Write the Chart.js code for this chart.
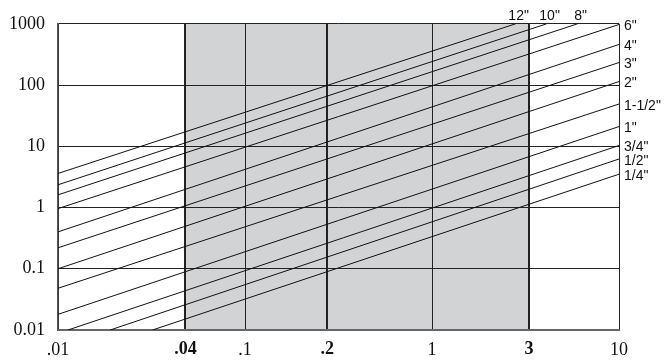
<!DOCTYPE html>
<html>
<head>
<meta charset="utf-8">
<script src="https://cdn.jsdelivr.net/npm/chart.js@4/dist/chart.umd.min.js"></script>
<style>
  body { margin: 0; background: #fff; }
  #wrap { width: 665px; height: 362px; }
</style>
</head>
<body>
<div id="wrap"><canvas id="js-pipe-chart" width="665" height="362"></canvas></div>
<script>
// pipe sizes, one line each (ends at the plot edge)
const pipeSizes = ['1/4"', '1/2"', '3/4"', '1"', '1-1/2"', '2"', '3"', '4"', '6"', '8"', '10"', '12"'];
const startX = [0.032, 0.019, 0.0113, 0.01, 0.01, 0.01, 0.01, 0.01, 0.01, 0.01, 0.01, 0.01];
const startY = [0.01, 0.01, 0.01, 0.018, 0.048, 0.10, 0.22, 0.40, 0.96, 1.61, 2.35, 3.6];
const endX = [10, 10, 10, 10, 10, 10, 10, 10, 10, 6.0, 4.1, 2.8];
const endY = [3.5, 6.2, 10.3, 21, 49, 114, 233, 460, 975, 1000, 1000, 1000];

// axis ticks (the marked x lines sit where the drawing puts them)
const xTickValues = [0.01, 0.048, 0.1, 0.275, 1, 3.3, 10];
const xTickLabels = ['.01', '.04', '.1', '.2', '1', '3', '10'];
const boundaryLabels = ['.04', '.2', '3'];
const yTickValues = [0.01, 0.1, 1, 10, 100, 1000];
const yTickLabels = ['0.01', '0.1', '1', '10', '100', '1000'];

const isBoundary = (i) => boundaryLabels.includes(xTickLabels[i]);
const bandFrom = xTickValues[xTickLabels.indexOf(boundaryLabels[0])];
const bandTo = xTickValues[xTickLabels.indexOf(boundaryLabels[boundaryLabels.length - 1])];

const bandPlugin = {
    id: "band",
    beforeDraw(chart) {
        const { ctx, chartArea, scales } = chart;
        const x1 = scales.x.getPixelForValue(bandFrom);
        const x2 = scales.x.getPixelForValue(bandTo);
        ctx.save();
        ctx.fillStyle = "#d2d3d5";
        ctx.fillRect(x1, chartArea.top, x2 - x1, chartArea.bottom - chartArea.top);
        ctx.restore();
    },
};

const sizeLabelPlugin = {
    id: "sizeLabels",
    afterDatasetsDraw(chart) {
        const { ctx, chartArea } = chart;
        ctx.save();
        ctx.font = "14px 'Liberation Sans', Arial, sans-serif";
        ctx.fillStyle = "#111";
        chart.data.datasets.forEach((ds, i) => {
            const pts = chart.getDatasetMeta(i).data;
            const end = pts[pts.length - 1];
            if (end.x < chartArea.right - 2) {
                // line leaves through the top
                ctx.textAlign = "center";
                ctx.textBaseline = "alphabetic";
                ctx.fillText(ds.label, end.x + 3, chartArea.top - 4);
            } else {
                ctx.textAlign = "left";
                ctx.textBaseline = "middle";
                ctx.fillText(ds.label, chartArea.right + 5, end.y + 2);
            }
        });
        ctx.restore();
    },
};

const datasets = pipeSizes.map((size, i) => ({
    label: size,
    data: [
        { x: startX[i], y: startY[i] },
        { x: endX[i], y: endY[i] },
    ],
    showLine: true,
    borderColor: "#111",
    borderWidth: 1,
    pointRadius: 0,
}));

const serif = "'Liberation Serif', 'Times New Roman', serif";

new Chart(document.getElementById("js-pipe-chart").getContext("2d"), {
    type: "scatter",
    data: { datasets: datasets },
    plugins: [bandPlugin, sizeLabelPlugin],
    options: {
        responsive: false,
        animation: false,
        layout: { padding: { top: 22, right: 46, left: 0, bottom: 0 } },
        plugins: { legend: { display: false }, tooltip: { enabled: false } },
        scales: {
            x: {
                type: "logarithmic",
                min: 0.01,
                max: 10,
                afterBuildTicks: (scale) => {
                    scale.ticks = xTickValues.map((v) => ({ value: v }));
                },
                afterFit: (scale) => {
                    scale.height = 32;
                },
                ticks: {
                    autoSkip: false,
                    maxRotation: 0,
                    padding: 9,
                    color: "#111",
                    font: (c) => ({ family: serif, size: 18, weight: isBoundary(c.index) ? "bold" : "normal" }),
                    callback: (v, i) => xTickLabels[i],
                },
                grid: {
                    drawTicks: false,
                    color: "#222",
                    lineWidth: (c) => (isBoundary(c.index) ? 2 : 1),
                },
                border: { display: true, color: "#666", width: 2 },
            },
            y: {
                type: "logarithmic",
                min: 0.01,
                max: 1000,
                afterBuildTicks: (scale) => {
                    scale.ticks = yTickValues.map((v) => ({ value: v }));
                },
                afterFit: (scale) => {
                    scale.width = 58;
                },
                ticks: {
                    autoSkip: false,
                    padding: 13,
                    color: "#111",
                    font: { family: serif, size: 18 },
                    callback: (v, i) => yTickLabels[i],
                },
                grid: { drawTicks: false, color: "#222", lineWidth: 1 },
                border: { display: true, color: "#555", width: 1.5 },
            },
        },
    },
});
</script>
</body>
</html>
